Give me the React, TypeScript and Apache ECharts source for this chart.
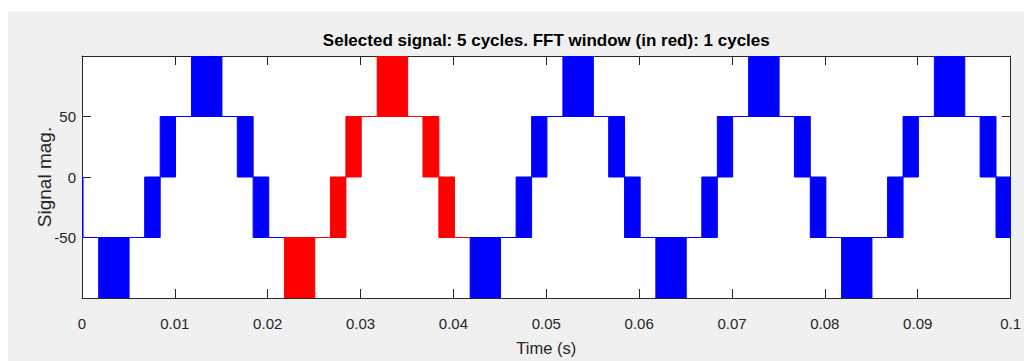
import React, { useEffect, useRef } from "react";
import * as echarts from "echarts";

// ---- data ----
// one PWM cycle (20 ms), times in ms from the start of an FFT-sized window
const bandStartMs = [0, 4.95, 6.62, 9.99, 14.92, 16.63];
const bandEndMs = [3.27, 6.62, 8.27, 13.27, 16.63, 18.31];
const bandLow = [-100, -50, 0, 50, 0, -50];
const bandHigh = [-50, 0, 50, 100, 50, 0];
const flatStartMs = [3.27, 8.27, 13.27, 18.31];
const flatEndMs = [4.95, 9.99, 14.92, 20.0];
const flatLevel = [-50, 50, 50, -50];
// window starts (s) and whether they belong to the FFT window (red)
const windowStartS = [-0.0182, 0.0018, 0.0218, 0.0418, 0.0618, 0.0818];
const windowIsFft = [false, false, true, false, false, false];

const xTicks = [0, 0.01, 0.02, 0.03, 0.04, 0.05, 0.06, 0.07, 0.08, 0.09, 0.1];
const yTickLabels = ["-50", "0", "50"];

const TITLE = "Selected signal: 5 cycles. FFT window (in red): 1 cycles";
const X_NAME = "Time (s)";
const Y_NAME = "Signal mag.";

const BLUE = "#0000ff";
const RED = "#ff0000";
const AXIS = "#262626";
const FONT = "'Liberation Sans', Arial, Helvetica, sans-serif";

// items: [t0, t1, low, high, isFft]
const items: number[][] = [];
windowStartS.forEach((w, k) => {
  const c = windowIsFft[k] ? 1 : 0;
  bandStartMs.forEach((s, i) => {
    items.push([w + s / 1000, w + bandEndMs[i] / 1000, bandLow[i], bandHigh[i], c]);
  });
  flatStartMs.forEach((s, i) => {
    items.push([w + s / 1000, w + flatEndMs[i] / 1000, flatLevel[i], flatLevel[i], c]);
  });
});

export default function App() {
  const ref = useRef<HTMLDivElement>(null);
  useEffect(() => {
    if (!ref.current) return;
    const chart = echarts.init(ref.current, null, { renderer: "svg" });
    const axisLine = { show: true, onZero: false, lineStyle: { color: AXIS, width: 1 } };
    const tick = { show: true, inside: true, length: 9, lineStyle: { color: AXIS, width: 1 } };
    chart.setOption({
      animation: false,
      backgroundColor: "#f0f0f0",
      grid: {
        left: 74,
        right: 9,
        top: 45,
        bottom: 57,
        show: true,
        backgroundColor: "#ffffff",
        borderWidth: 0,
      },
      xAxis: [
        {
          type: "value",
          position: "bottom",
          min: 0,
          max: 0.1,
          interval: 0.01,
          axisLine,
          axisTick: tick,
          splitLine: { show: false },
          axisLabel: {
            color: AXIS,
            fontSize: 15,
            fontFamily: FONT,
            margin: 18,
            formatter: (v: number) => {
              const s = String(+v.toFixed(3));
              return xTicks.some((t) => Math.abs(t - v) < 1e-9) ? s : "";
            },
          },
          name: X_NAME,
          nameLocation: "middle",
          nameGap: 41,
          nameMoveOverlap: false,
          nameTextStyle: { color: AXIS, fontSize: 16.5, fontFamily: FONT },
        },
        {
          type: "value",
          position: "top",
          min: 0,
          max: 0.1,
          interval: 0.01,
          axisLine,
          axisTick: tick,
          splitLine: { show: false },
          axisLabel: { show: false },
          name: TITLE,
          nameLocation: "middle",
          nameGap: 7,
          nameMoveOverlap: false,
          nameTextStyle: {
            color: "#000000",
            fontSize: 17,
            fontWeight: "bold",
            fontFamily: FONT,
          },
        },
      ],
      yAxis: [
        {
          type: "value",
          position: "left",
          min: -100,
          max: 100,
          interval: 50,
          axisLine,
          axisTick: tick,
          splitLine: { show: false },
          axisLabel: {
            color: AXIS,
            fontSize: 15,
            fontFamily: FONT,
            margin: 6,
            formatter: (v: number) => (yTickLabels.includes(String(v)) ? String(v) : ""),
          },
          name: Y_NAME,
          nameLocation: "middle",
          nameRotate: 90,
          nameGap: 28,
          nameMoveOverlap: false,
          nameTextStyle: { color: AXIS, fontSize: 19, fontFamily: FONT },
        },
        {
          type: "value",
          position: "right",
          min: -100,
          max: 100,
          interval: 50,
          axisLine,
          axisTick: tick,
          splitLine: { show: false },
          axisLabel: { show: false },
        },
      ],
      series: [
        {
          type: "custom",
          xAxisIndex: 0,
          yAxisIndex: 0,
          clip: true,
          encode: { x: [0, 1], y: [2, 3] },
          data: items,
          renderItem: (params: any, api: any) => {
            const t0 = api.value(0);
            const t1 = api.value(1);
            const lo = api.value(2);
            const hi = api.value(3);
            const color = api.value(4) ? RED : BLUE;
            const a = api.coord([t0, hi]);
            const b = api.coord([t1, lo]);
            if (lo === hi) {
              return {
                type: "line",
                shape: { x1: a[0], y1: a[1], x2: b[0], y2: a[1] },
                style: { stroke: color, lineWidth: 1 },
              };
            }
            const shape = echarts.graphic.clipRectByRect(
              { x: a[0], y: a[1], width: b[0] - a[0], height: b[1] - a[1] },
              {
                x: params.coordSys.x,
                y: params.coordSys.y,
                width: params.coordSys.width,
                height: params.coordSys.height,
              }
            );
            if (!shape) return null;
            return {
              type: "rect",
              shape,
              style: { fill: color, stroke: color, lineWidth: 1 },
            };
          },
        },
      ],
    });
    return () => chart.dispose();
  }, []);
  return (
    <div
      ref={ref}
      style={{ position: "fixed", left: 8, top: 11, width: 1016, height: 350 }}
    />
  );
}
